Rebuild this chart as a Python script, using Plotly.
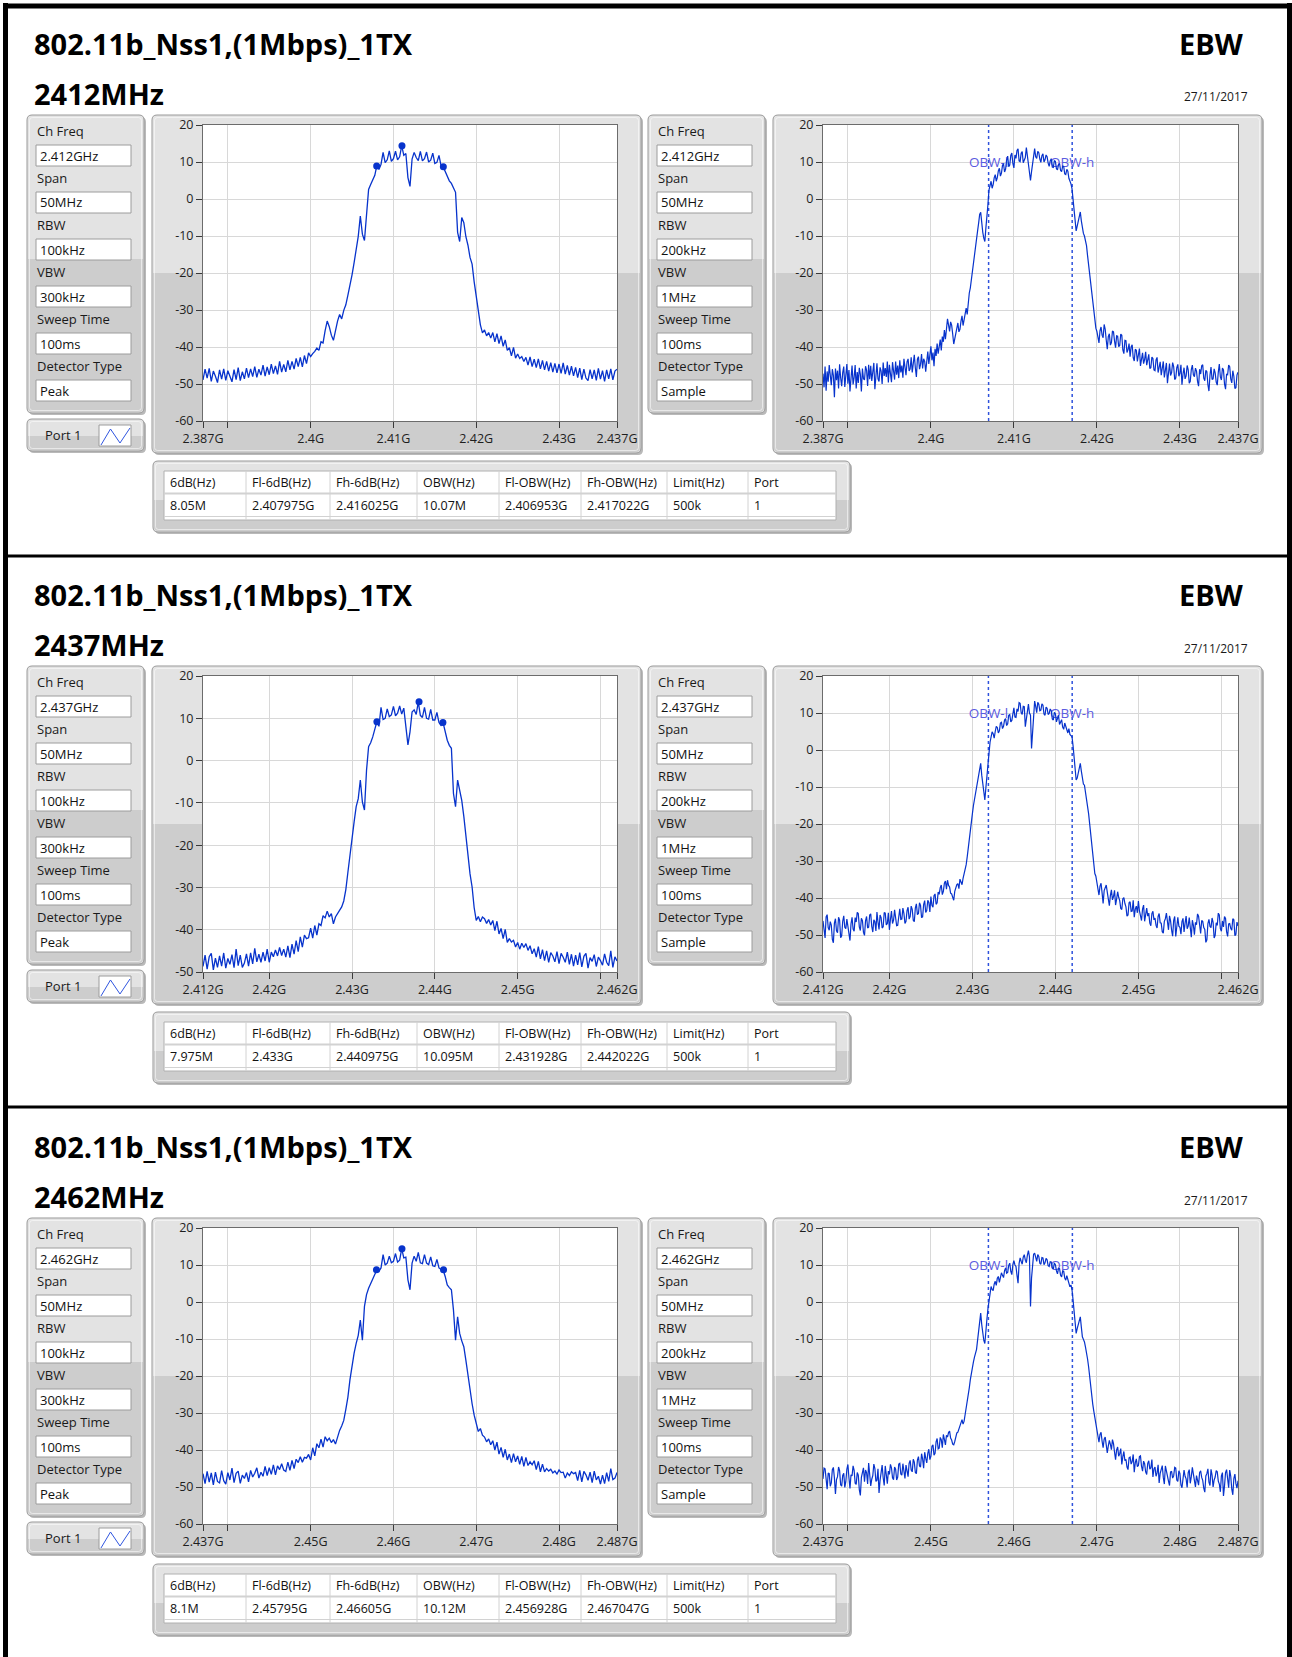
import plotly.graph_objects as go

# ---------------- page geometry (pixels, origin top-left) ----------------
W, H = 1292, 1657
SECTION_DY = [0, 551, 1103]
FONT = "Open Sans"
TRACE_BLUE = "#0733cc"

# ---------------- report text ----------------
report_title = "802.11b_Nss1,(1Mbps)_1TX"
test_name = "EBW"
report_date = "27/11/2017"
channel_labels = ["2412MHz", "2437MHz", "2462MHz"]
center_ghz = [2.412, 2.437, 2.462]

# ---------------- analyser settings ----------------
setting_names = ["Ch Freq", "Span", "RBW", "VBW", "Sweep Time", "Detector Type"]
ch_freq_text = ["2.412GHz", "2.437GHz", "2.462GHz"]
peak_settings = ["50MHz", "100kHz", "300kHz", "100ms", "Peak"]
sample_settings = ["50MHz", "200kHz", "1MHz", "100ms", "Sample"]
port_label = "Port 1"

# ---------------- sweep: 50 MHz span centred on the channel ----------------
span_mhz = 50.0

# ---------------- measured traces, dBm ----------------
# peak detector: 201 points (0.25 MHz step)
peak_2412 = [
    -48.9, -46.0, -48.4, -45.8, -49.3, -46.5, -47.9, -49.6, -46.2, -48.7, -45.9, -49.0, -46.4, -48.2, -49.4, -46.1, -48.8, -45.6, -49.1, -46.7,
    -48.6, -45.7, -48.3, -45.9, -48.0, -45.3, -48.2, -46.0, -47.6, -44.9, -47.9, -45.4, -47.5, -44.6, -47.2, -45.1, -47.4, -43.9, -46.8, -44.7,
    -46.7, -43.6, -46.2, -43.9, -46.0, -43.1, -45.3, -42.8, -45.4, -42.3, -44.5, -41.6, -42.6, -41.8, -41.2, -40.3, -40.9, -38.6, -38.9, -35.6,
    -33.0, -34.5, -36.8, -38.2, -35.5, -33.0, -31.2, -32.4, -30.1, -28.6, -26.0, -23.5, -20.5, -17.2, -13.4, -10.1, -4.6, -9.5, -11.2, -3.5,
    2.6, 3.9, 5.2, 6.4, 9.1, 8.0, 9.4, 12.6, 9.8, 10.6, 13.0, 10.2, 10.9, 12.9, 10.6, 11.4, 14.4, 11.8, 12.3, 5.8,
    3.4, 10.8, 12.6, 11.2, 10.4, 12.9, 10.3, 10.9, 12.7, 10.0, 10.5, 12.4, 9.6, 9.9, 11.8, 9.0, 8.7, 7.4, 6.3, 4.9,
    4.2, 3.1, 1.8, -9.0, -11.5, -5.0, -6.4, -10.2, -12.5, -15.8, -17.6, -22.4, -26.5, -30.8, -34.0, -36.2, -35.4, -37.0, -36.1, -37.6,
    -36.1, -38.6, -36.4, -39.1, -37.0, -39.8, -38.1, -40.9, -40.2, -42.4, -40.1, -43.0, -41.9, -43.1, -42.6, -43.9, -42.8, -44.9, -42.7, -45.3,
    -43.3, -45.6, -43.2, -45.9, -43.6, -46.2, -43.9, -46.5, -44.2, -46.8, -44.4, -47.0, -44.6, -47.1, -44.3, -47.3, -45.0, -47.6, -45.2, -47.8,
    -45.5, -48.3, -45.7, -48.8, -46.0, -48.4, -49.1, -46.1, -48.6, -46.2, -49.0, -45.8, -48.7, -46.4, -49.3, -46.2, -48.6, -45.9, -48.9, -46.5,
    -46.0,
]
peak_2437 = [
    -48.7, -46.0, -49.3, -46.4, -45.6, -49.5, -46.7, -48.9, -46.2, -48.6, -45.5, -49.1, -46.8, -48.2, -45.9, -49.0, -44.6, -48.5, -46.0, -48.9,
    -47.9, -45.7, -48.6, -45.5, -48.1, -44.4, -47.6, -45.8, -47.7, -45.3, -47.4, -44.6, -47.7, -45.3, -46.4, -44.8, -46.2, -44.2, -46.1, -44.6,
    -46.5, -43.8, -46.6, -43.4, -45.8, -42.6, -45.2, -41.7, -44.1, -41.3, -42.1, -41.9, -39.6, -42.0, -39.0, -41.3, -38.6, -39.0, -36.7, -37.2,
    -35.6, -37.0, -36.2, -38.6, -37.0, -36.1, -35.5, -34.6, -33.2, -30.5, -26.4, -22.0, -18.8, -14.5, -10.9, -9.0, -4.6, -9.8, -11.7, -2.3,
    3.3, 4.2, 5.6, 7.3, 9.2, 8.1, 12.6, 9.7, 10.0, 12.2, 10.4, 10.8, 12.8, 10.6, 11.2, 12.9, 11.0, 12.4, 8.6, 3.7,
    6.8, 11.5, 12.0, 10.9, 13.9, 10.7, 10.2, 12.6, 10.0, 9.8, 12.1, 9.6, 9.6, 11.4, 9.0, 8.3, 8.9, 6.7, 4.8, 3.6,
    2.9, -7.8, -10.9, -4.6, -6.8, -9.4, -13.2, -18.0, -22.5, -26.8, -29.9, -34.8, -37.8, -36.9, -38.1, -37.0, -37.4, -38.5, -37.6, -38.9,
    -37.8, -40.2, -38.0, -41.0, -39.7, -42.1, -39.9, -43.0, -42.1, -42.9, -42.5, -44.1, -43.0, -44.6, -43.2, -44.2, -43.3, -44.9, -43.8, -45.7,
    -44.5, -46.5, -44.0, -46.9, -44.7, -47.3, -45.0, -47.7, -45.4, -46.2, -47.6, -45.2, -48.0, -45.6, -46.5, -47.7, -45.3, -48.2, -45.8, -48.6,
    -46.0, -48.3, -45.4, -48.8, -46.3, -45.6, -49.1, -46.6, -47.5, -45.9, -48.7, -46.5, -47.3, -48.4, -45.7, -47.7, -48.5, -45.0, -48.9, -46.4,
    -47.4,
]
peak_2462 = [
    -46.4, -49.1, -45.8, -48.7, -46.2, -49.4, -46.0, -48.5, -48.9, -45.6, -48.3, -49.2, -46.1, -48.1, -44.9, -48.8, -46.3, -45.7, -49.0, -46.8,
    -47.7, -46.1, -48.6, -45.5, -47.3, -46.3, -44.8, -47.6, -46.0, -47.1, -44.4, -46.9, -44.8, -46.6, -44.0, -46.7, -44.3, -45.3, -43.7, -45.4,
    -45.8, -43.3, -45.5, -42.8, -45.0, -42.5, -43.4, -41.8, -43.3, -42.0, -42.2, -41.2, -42.7, -39.4, -41.6, -38.3, -39.4, -37.1, -39.2, -36.4,
    -37.5, -36.8, -38.0, -37.2, -38.4, -36.5, -34.7, -33.5, -32.0, -29.0, -25.7, -21.0, -16.6, -13.8, -11.2, -9.0, -4.9, -10.3, -1.2, 2.0,
    3.7, 4.9, 6.2, 7.4, 8.7, 8.3, 9.2, 12.8, 10.0, 10.5, 12.4, 10.6, 11.0, 13.1, 10.8, 11.3, 14.4, 11.9, 12.1, 6.0,
    3.3, 10.5, 12.4, 11.0, 13.4, 10.6, 10.4, 12.8, 10.5, 10.1, 12.2, 9.8, 9.6, 11.5, 9.2, 8.8, 8.7, 6.9, 4.6, 3.9,
    3.3, -2.2, -10.3, -4.0, -8.5, -10.5, -12.1, -15.8, -20.2, -24.0, -27.5, -30.6, -32.9, -35.0, -34.2, -36.0, -36.5, -37.8, -37.0, -38.6,
    -37.5, -40.0, -37.9, -41.1, -39.3, -42.0, -39.8, -42.7, -41.1, -43.4, -41.0, -43.2, -41.6, -43.9, -41.7, -44.4, -42.0, -44.2, -43.2, -44.0,
    -42.9, -45.3, -43.1, -45.9, -43.8, -45.9, -45.0, -45.7, -45.2, -46.2, -45.7, -46.5, -45.4, -46.1, -46.0, -47.6, -46.2, -46.9, -45.9, -46.4,
    -46.1, -48.3, -45.5, -48.6, -45.8, -46.7, -48.2, -46.0, -48.8, -45.7, -48.1, -47.1, -49.2, -46.8, -49.1, -46.1, -48.5, -45.0, -48.0, -47.6,
    -46.1,
]
# sample detector: 401 points (0.125 MHz step)
sample_2412 = [
    -47.2, -50.9, -45.3, -51.8, -46.6, -49.4, -44.9, -48.7, -50.3, -46.0, -47.7, -53.6, -45.8, -49.0, -46.4, -51.2, -44.7, -48.3, -50.6, -46.9,
    -45.3, -50.8, -47.5, -44.6, -49.9, -46.2, -52.0, -47.4, -45.0, -50.1, -48.2, -44.9, -51.2, -46.8, -49.7, -45.6, -47.4, -52.0, -45.8, -48.6,
    -48.9, -45.2, -46.3, -50.5, -44.8, -48.7, -45.1, -49.2, -47.0, -44.3, -51.4, -46.1, -44.4, -48.6, -49.3, -45.5, -46.5, -50.0, -44.2, -47.8,
    -45.7, -48.1, -43.9, -49.6, -44.8, -47.2, -49.5, -44.1, -46.2, -48.8, -43.9, -47.5, -45.0, -48.4, -43.6, -46.9, -45.0, -48.3, -43.2, -46.4,
    -47.6, -44.0, -43.2, -46.5, -45.9, -42.8, -46.9, -44.5, -42.1, -45.6, -48.1, -43.3, -42.6, -46.0, -44.7, -41.9, -45.8, -43.2, -43.9, -46.7,
    -43.8, -41.2, -44.6, -42.0, -39.8, -43.6, -41.5, -45.2, -40.5, -42.4, -39.1, -41.8, -40.2, -38.0, -40.9, -37.2, -38.6, -35.4, -37.9, -34.6,
    -32.4, -34.0, -35.8, -33.2, -34.1, -36.5, -39.2, -37.8, -36.0, -34.4, -33.5, -35.9, -35.2, -33.0, -31.6, -34.2, -32.8, -30.6, -29.5, -31.2,
    -27.0, -25.4, -24.0, -21.6, -19.8, -17.9, -15.6, -12.8, -10.4, -8.6, -6.5, -4.2, -3.6, -7.1, -9.0, -10.6, -11.5, -7.8, -5.2, -1.4,
    2.5, 3.6, 4.8, 2.9, 3.9, 5.7, 6.6, 4.8, 5.8, 7.6, 8.3, 6.2, 7.0, 9.1, 9.5, 7.3, 8.1, 10.6, 11.6, 8.7,
    9.2, 11.8, 12.4, 9.6, 8.4, 11.9, 11.0, 13.1, 13.6, 10.3, 10.1, 12.4, 12.8, 9.8, 10.4, 11.2, 13.9, 11.5, 8.6, 6.9,
    5.0, 7.4, 9.8, 12.6, 13.6, 11.4, 11.0, 12.9, 12.5, 10.8, 9.9, 11.7, 12.2, 10.0, 10.6, 11.9, 11.4, 9.7, 8.8, 10.3,
    10.9, 8.6, 8.5, 10.4, 10.1, 8.2, 7.9, 9.3, 9.6, 7.7, 7.4, 8.9, 8.8, 6.8, 6.6, 8.0, 7.5, 5.6, 4.9, 4.1,
    2.8, 0.1, -3.0, -6.2, -8.6, -7.3, -6.0, -4.1, -3.5, -5.9, -8.2, -9.3, -10.0, -11.5, -12.6, -15.3, -17.8, -20.1, -22.5, -25.9,
    -28.7, -31.0, -33.2, -34.9, -35.8, -37.4, -38.9, -35.6, -34.6, -36.8, -37.5, -33.9, -35.2, -38.1, -40.6, -37.2, -36.4, -39.5, -38.8, -35.7,
    -35.9, -38.4, -40.2, -37.0, -37.1, -39.9, -39.6, -36.5, -36.8, -40.8, -41.8, -38.2, -38.3, -41.5, -40.7, -39.1, -42.6, -40.0, -39.4, -42.9,
    -43.8, -40.6, -40.9, -43.9, -42.2, -40.4, -45.1, -42.8, -41.6, -44.5, -43.4, -41.3, -44.9, -43.5, -42.0, -45.8, -45.6, -42.7, -43.1, -46.2,
    -46.4, -43.5, -42.8, -46.9, -45.2, -44.0, -47.6, -45.1, -43.9, -48.2, -46.0, -44.3, -49.8, -46.5, -44.5, -47.7, -46.9, -44.2, -45.3, -48.8,
    -48.4, -45.6, -44.7, -47.9, -47.1, -44.8, -50.2, -47.3, -45.6, -48.6, -47.8, -45.0, -46.2, -49.8, -49.3, -46.1, -44.9, -47.5, -48.0, -45.7,
    -46.5, -49.3, -50.6, -46.0, -47.3, -45.1, -44.8, -48.4, -49.1, -46.3, -46.7, -50.2, -51.9, -47.6, -45.4, -48.8, -48.6, -45.9, -47.0, -49.5,
    -50.3, -46.8, -44.6, -48.1, -48.9, -45.7, -46.2, -50.0, -51.4, -47.3, -47.5, -44.9, -45.3, -48.6, -49.7, -46.4, -47.9, -51.2, -51.0, -47.6,
    -46.8,
]
sample_2437 = [
    -46.2, -49.6, -50.8, -45.1, -44.5, -48.0, -48.7, -46.4, -47.3, -51.2, -52.1, -46.8, -45.6, -48.9, -49.4, -45.2, -46.0, -50.7, -50.2, -46.3,
    -44.8, -47.9, -48.3, -45.7, -47.6, -50.4, -51.5, -47.0, -45.2, -48.4, -49.0, -45.3, -46.5, -43.9, -44.2, -47.8, -48.8, -45.5, -46.1, -49.3,
    -50.1, -46.2, -45.0, -48.1, -47.9, -44.6, -44.3, -47.7, -49.2, -45.9, -46.4, -48.9, -43.8, -46.5, -48.5, -44.6, -45.3, -48.1, -47.8, -43.9,
    -44.1, -47.3, -46.9, -44.0, -48.6, -45.8, -43.5, -46.9, -46.0, -43.2, -44.8, -47.5, -47.4, -44.1, -42.9, -45.8, -45.7, -42.7, -44.2, -46.9,
    -46.3, -43.4, -42.5, -45.7, -45.0, -42.2, -43.1, -46.0, -46.4, -42.7, -41.6, -44.5, -44.2, -41.3, -42.0, -45.3, -45.1, -41.8, -40.7, -43.9,
    -43.4, -40.6, -41.2, -43.8, -39.6, -42.0, -42.5, -39.4, -38.9, -41.7, -41.3, -38.4, -39.0, -37.2, -36.5, -39.1, -38.2, -36.0, -35.4, -37.6,
    -35.2, -36.6, -37.0, -38.7, -38.9, -39.8, -40.6, -38.2, -37.0, -36.4, -36.1, -37.5, -34.9, -35.8, -36.4, -34.7, -33.4, -32.6, -31.0, -28.9,
    -26.2, -24.1, -22.5, -19.6, -17.2, -15.0, -13.4, -11.8, -10.0, -8.5, -7.2, -4.9, -3.6, -6.8, -9.1, -11.6, -13.5, -10.2, -6.2, -3.0,
    -0.9, 2.1, 3.6, 4.9, 4.4, 3.2, 5.0, 6.4, 6.1, 4.6, 5.2, 7.3, 7.5, 5.8, 6.4, 8.1, 8.5, 6.6, 7.1, 9.4,
    9.6, 7.6, 8.0, 10.3, 11.4, 8.9, 8.8, 11.1, 10.4, 12.8, 12.6, 10.1, 9.6, 11.8, 11.7, 6.3, 8.2, 11.2, 12.4, 10.0,
    9.4, 0.4, 5.6, 11.7, 13.2, 11.8, 10.1, 12.9, 12.4, 10.6, 10.8, 12.5, 12.1, 9.7, 9.4, 11.6, 11.3, 9.6, 9.9, 11.1,
    10.6, 8.4, 8.1, 10.2, 9.8, 7.6, 8.5, 9.4, 6.9, 7.8, 8.2, 6.2, 5.6, 7.3, 6.4, 5.1, 4.6, 5.8, 4.2, 3.9,
    3.6, 1.2, -1.8, -5.4, -8.1, -7.6, -6.5, -4.8, -3.6, -5.7, -8.4, -9.2, -9.5, -11.3, -12.8, -15.1, -17.2, -19.9, -22.8, -25.6,
    -28.0, -31.2, -33.4, -34.1, -35.6, -37.9, -39.2, -36.8, -36.0, -38.6, -41.5, -38.0, -37.0, -36.5, -38.4, -40.9, -42.1, -39.3, -37.8, -40.5,
    -39.6, -37.9, -41.9, -40.3, -38.3, -39.8, -40.7, -42.8, -43.1, -40.2, -39.9, -41.5, -42.4, -44.9, -44.6, -41.3, -41.0, -43.6, -43.5, -40.6,
    -45.2, -43.0, -42.2, -44.0, -40.8, -43.5, -44.8, -46.1, -43.0, -41.9, -46.3, -44.5, -42.7, -44.9, -44.1, -46.8, -47.5, -44.2, -43.6, -45.9,
    -45.4, -47.4, -48.1, -45.0, -44.2, -46.7, -46.8, -49.1, -49.5, -46.3, -45.6, -44.1, -47.3, -48.6, -44.8, -46.2, -48.7, -50.3, -46.1, -45.0,
    -50.4, -47.1, -45.2, -47.6, -47.9, -49.8, -46.4, -45.5, -49.2, -46.8, -44.9, -48.3, -47.6, -45.3, -48.8, -50.6, -46.0, -47.4, -49.9, -46.6,
    -47.2, -44.3, -44.9, -48.5, -49.6, -46.1, -46.3, -48.0, -48.5, -52.0, -51.3, -46.9, -45.8, -47.7, -48.0, -45.4, -46.6, -50.8, -50.1, -46.7,
    -47.4, -44.1, -44.6, -48.3, -49.0, -46.2, -47.8, -45.0, -45.5, -49.1, -50.4, -47.0, -46.9, -48.2, -48.7, -45.6, -45.9, -50.2, -49.8, -46.5,
    -47.5,
]
sample_2462 = [
    -47.8, -44.9, -45.1, -49.3, -50.6, -46.2, -46.4, -49.8, -48.9, -45.3, -44.7, -47.6, -51.9, -48.0, -47.2, -44.6, -45.6, -49.4, -49.8, -46.9,
    -46.3, -50.1, -48.5, -45.2, -43.9, -47.5, -50.4, -46.7, -47.0, -44.3, -45.5, -49.0, -49.3, -46.1, -46.8, -50.7, -52.3, -47.4, -45.9, -44.8,
    -48.6, -45.4, -46.1, -49.2, -43.5, -46.7, -49.7, -47.9, -46.9, -43.8, -45.0, -48.5, -48.2, -45.1, -51.6, -48.2, -45.7, -44.1, -47.5, -49.6,
    -44.3, -46.9, -49.1, -45.7, -46.6, -43.9, -44.8, -47.5, -48.0, -44.6, -45.2, -48.1, -47.3, -43.8, -43.6, -46.5, -46.8, -43.7, -45.3, -47.7,
    -44.1, -46.5, -47.2, -43.6, -42.8, -45.4, -45.9, -42.5, -43.3, -46.1, -46.4, -42.7, -41.8, -44.3, -44.6, -41.0, -42.4, -44.9, -40.6, -42.2,
    -43.5, -40.9, -39.8, -42.6, -41.7, -39.0, -38.6, -41.4, -40.9, -37.8, -36.9, -39.7, -39.5, -36.6, -37.2, -39.4, -35.8, -37.1, -38.6, -36.0,
    -36.5, -35.3, -34.9, -36.8, -37.3, -38.4, -38.6, -37.7, -36.0, -35.4, -35.2, -34.4, -33.6, -32.7, -31.8, -33.0, -32.2, -30.4, -28.8, -27.4,
    -25.7, -23.2, -21.0, -19.1, -17.5, -16.2, -14.9, -13.6, -12.8, -10.3, -7.8, -5.2, -3.0, -6.1, -8.6, -10.4, -11.2, -8.7, -4.6, -1.8,
    0.6, 2.9, 4.2, 3.4, 3.1, 4.8, 5.6, 4.5, 6.4, 6.9, 5.3, 6.6, 7.9, 7.2, 6.6, 8.5, 9.2, 7.8, 8.0, 9.9,
    10.5, 8.3, 7.4, 10.1, 11.2, 10.0, 9.6, 7.2, 5.1, 10.4, 11.9, 11.0, 10.2, 12.1, 12.8, 11.3, 10.6, 12.7, 13.9, 12.2,
    -1.2, 6.5, 10.4, 12.9, 13.2, 11.6, 11.0, 12.8, 12.3, 10.5, 10.2, 12.0, 11.9, 10.1, 10.6, 11.8, 11.4, 9.8, 9.6, 10.9,
    10.8, 9.2, 8.9, 10.5, 10.1, 8.4, 7.6, 9.1, 9.0, 7.2, 6.8, 8.4, 8.3, 6.5, 5.9, 7.1, 6.0, 4.9, 4.1, 4.6,
    3.3, 0.6, -2.2, -5.8, -8.5, -7.2, -6.1, -4.6, -4.0, -6.8, -9.4, -10.1, -10.8, -12.2, -13.6, -15.4, -17.5, -20.5, -23.0, -25.6,
    -27.6, -29.5, -31.1, -33.2, -34.7, -36.4, -37.9, -35.8, -35.2, -37.6, -39.4, -37.1, -36.5, -38.6, -40.8, -38.9, -37.4, -38.5, -39.9, -37.2,
    -38.3, -40.6, -42.6, -40.0, -39.2, -41.7, -41.0, -39.6, -43.9, -41.8, -40.4, -42.9, -42.5, -44.6, -45.3, -42.1, -41.9, -43.8, -43.1, -41.2,
    -46.0, -43.4, -42.4, -44.5, -44.2, -41.8, -41.6, -44.4, -45.7, -43.0, -43.7, -45.9, -46.6, -43.6, -42.9, -45.2, -44.8, -42.6, -47.3, -45.1,
    -44.6, -47.1, -46.2, -44.0, -48.9, -46.3, -45.1, -44.2, -47.4, -49.2, -44.3, -46.0, -46.9, -48.4, -49.6, -45.9, -45.8, -47.6, -47.0, -44.7,
    -44.9, -48.1, -48.5, -45.6, -46.3, -49.4, -50.2, -46.7, -45.4, -47.1, -47.8, -50.1, -46.1, -45.3, -49.0, -47.2, -44.7, -46.5, -48.3, -50.0,
    -46.9, -48.8, -49.5, -46.1, -45.6, -47.4, -48.2, -50.3, -51.4, -47.0, -46.4, -45.1, -48.7, -49.6, -45.2, -46.8, -50.0, -48.1, -47.3, -45.6,
    -45.9, -48.4, -49.2, -51.3, -47.0, -46.1, -52.4, -49.7, -46.1, -45.3, -48.8, -50.2, -45.4, -47.1, -50.6, -52.1, -47.7, -46.5, -49.1, -50.3,
    -48.3,
]
peak_traces = [peak_2412, peak_2437, peak_2462]
sample_traces = [sample_2412, sample_2437, sample_2462]

# ---------------- axes ----------------
xtick_vals = [
    [2.387, 2.39, 2.40, 2.41, 2.42, 2.43, 2.437],
    [2.412, 2.42, 2.43, 2.44, 2.45, 2.46, 2.462],
    [2.437, 2.44, 2.45, 2.46, 2.47, 2.48, 2.487],
]
xtick_text = [
    ["2.387G", "", "2.4G", "2.41G", "2.42G", "2.43G", "2.437G"],
    ["2.412G", "2.42G", "2.43G", "2.44G", "2.45G", "", "2.462G"],
    ["2.437G", "", "2.45G", "2.46G", "2.47G", "2.48G", "2.487G"],
]
peak_yrange = [(-60, 20), (-50, 20), (-60, 20)]
sample_yrange = [(-60, 20), (-60, 20), (-60, 20)]

# ---------------- measurement results ----------------
bw_6db_mhz = [8.05, 7.975, 8.1]
fl_6db_ghz = [2.407975, 2.433, 2.45795]
fh_6db_ghz = [2.416025, 2.440975, 2.46605]
obw_mhz = [10.07, 10.095, 10.12]
fl_obw_ghz = [2.406953, 2.431928, 2.456928]
fh_obw_ghz = [2.417022, 2.442022, 2.467047]
limit_text = "500k"
port_number = "1"
table_header = ["6dB(Hz)", "Fl-6dB(Hz)", "Fh-6dB(Hz)", "OBW(Hz)", "Fl-OBW(Hz)", "Fh-OBW(Hz)", "Limit(Hz)", "Port"]

# marker levels on the peak-detector traces
peak_marker_ghz = [2.41103, 2.43809, 2.46103]
peak_marker_db = [14.4, 13.9, 14.4]
fl_6db_level = [8.9, 9.2, 8.7]
fh_6db_level = [8.7, 9.0, 8.7]

# ---------------- drawing helpers ----------------
PANEL_LIGHT = "#e3e3e3"
PANEL_DARK = "#cdcdcd"
PANEL_EDGE = "#9a9a9a"
SHADOW = "#b9b9b9"

shapes = []
annotations = []


def X(px):
    return px / W


def Y(py):
    return 1 - py / H


def rpath(x0, y0, x1, y1, r, top=True, bottom=True):
    rt = r if top else 0
    rb = r if bottom else 0
    f = lambda v: f"{v:.6f}"
    d = f"M{f(X(x0 + rt))},{f(Y(y0))} L{f(X(x1 - rt))},{f(Y(y0))} "
    if rt:
        d += f"Q{f(X(x1))},{f(Y(y0))} {f(X(x1))},{f(Y(y0 + rt))} "
    d += f"L{f(X(x1))},{f(Y(y1 - rb))} "
    if rb:
        d += f"Q{f(X(x1))},{f(Y(y1))} {f(X(x1 - rb))},{f(Y(y1))} "
    d += f"L{f(X(x0 + rb))},{f(Y(y1))} "
    if rb:
        d += f"Q{f(X(x0))},{f(Y(y1))} {f(X(x0))},{f(Y(y1 - rb))} "
    d += f"L{f(X(x0))},{f(Y(y0 + rt))} "
    if rt:
        d += f"Q{f(X(x0))},{f(Y(y0))} {f(X(x0 + rt))},{f(Y(y0))} "
    return d + "Z"


def add_path(d, fill, line=None, lw=1):
    shapes.append(dict(type="path", path=d, xref="paper", yref="paper", fillcolor=fill,
                       line=dict(color=line if line else "rgba(0,0,0,0)", width=lw if line else 0),
                       layer="below"))


def add_rect(x0, y0, x1, y1, fill, line=None, lw=1):
    shapes.append(dict(type="rect", xref="paper", yref="paper",
                       x0=X(x0), x1=X(x1), y0=Y(y1), y1=Y(y0), fillcolor=fill,
                       line=dict(color=line if line else "rgba(0,0,0,0)", width=lw if line else 0),
                       layer="below"))


def add_line(x0, y0, x1, y1, color, width=1):
    shapes.append(dict(type="line", xref="paper", yref="paper",
                       x0=X(x0), y0=Y(y0), x1=X(x1), y1=Y(y1),
                       line=dict(color=color, width=width), layer="below"))


def panel(x0, y0, x1, y1, split, r=5):
    add_path(rpath(x0 + 2, y0 + 2, x1 + 2, y1 + 2, r), SHADOW)
    add_path(rpath(x0, y0, x1, y1, r), PANEL_LIGHT, PANEL_EDGE, 1)
    add_path(rpath(x0 + 1, split, x1 - 1, y1 - 1, r - 1, top=False), PANEL_DARK)
    add_path(rpath(x0 + 2.5, y0 + 2.5, x1 - 2.5, y1 - 2.5, r - 2), "rgba(0,0,0,0)", "rgba(255,255,255,0.55)", 1)


def text(x, y, s, size, color="#1a1a1a", anchor="left"):
    annotations.append(dict(x=X(x), y=Y(y), xref="paper", yref="paper", text=s, showarrow=False,
                            xanchor=anchor, yanchor="middle", borderpad=0,
                            font=dict(family=FONT, size=size, color=color)))


# ---------------- outer frame ----------------
add_line(3, 6, 1292, 6, "black", 5)
add_line(5.5, 3, 5.5, H, "black", 5)
add_line(1289.5, 3, 1289.5, H, "black", 5)
for sep in (556, 1107):
    add_line(3, sep, 1292, sep, "black", 3)

COL_X = [164, 246, 330, 417, 499, 581, 667, 748, 836]
PLOT_X = [(203, 617), (823, 1238)]
PANEL_X = [(152, 641), (773, 1262)]
SET_X = [(27, 144), (648, 765)]

fig = go.Figure()
layout_axes = {}
axis_style = dict(showgrid=True, gridcolor="#d8d8d8", gridwidth=1, zeroline=False,
                  showline=True, linecolor="#6c6c6c", linewidth=1, mirror=True,
                  ticks="outside", ticklen=6, tickwidth=1, tickcolor="#3a3a3a",
                  tickfont=dict(family=FONT, size=12.5, color="#1e1e1e"),
                  automargin=False, fixedrange=True)

k = 0
for s in range(3):
    dy = SECTION_DY[s]
    c = center_ghz[s]

    # headings
    text(33, 43 + dy, f"<b>{report_title}</b>", 29, "#000000")
    text(33, 93 + dy, f"<b>{channel_labels[s]}</b>", 29, "#000000")
    text(1245, 43 + dy, f"<b>{test_name}</b>", 29, "#000000", "right")
    text(1249, 97 + dy, report_date, 12, "#1a1a1a", "right")

    # settings clusters
    for side, vals in enumerate([peak_settings, sample_settings]):
        sx0, sx1 = SET_X[side]
        panel(sx0, 115 + dy, sx1, 413 + dy, 259 + dy)
        values = [ch_freq_text[s]] + vals
        for i, name in enumerate(setting_names):
            text(sx0 + 9, 131 + 47 * i + dy, name, 13)
            by0 = 145 + 47 * i + dy
            add_rect(sx0 + 9, by0, sx1 - 13, by0 + 21, "white", "#9c9c9c", 1)
            text(sx0 + 12, by0 + 10.5, values[i], 13, "#111111")

    # port selector
    panel(27, 419 + dy, 144, 451 + dy, 436 + dy)
    text(63, 435 + dy, port_label, 13, "#1a1a1a", "center")
    add_rect(99, 425 + dy, 131, 446 + dy, "white", "#9c9c9c", 1)
    zig = [(101, 445), (110.5, 429), (120, 443), (130, 428)]
    zd = "M" + " L".join(f"{X(a):.6f},{Y(b + dy):.6f}" for a, b in zig)
    shapes.append(dict(type="path", path=zd, xref="paper", yref="paper",
                       line=dict(color="#2f55e0", width=1), layer="above"))

    # graph panels + white plot areas
    for side in range(2):
        gx0, gx1 = PANEL_X[side]
        panel(gx0, 115 + dy, gx1, 453 + dy, 273 + dy)
        px0, px1 = PLOT_X[side]
        add_rect(px0, 125 + dy, px1, 421 + dy, "white")

    # results table
    panel(153, 461 + dy, 850, 532 + dy, 500 + dy)
    add_rect(164, 471 + dy, 836, 520 + dy, "white", "#b0b0b0", 1)
    for xc in COL_X[1:-1]:
        add_line(xc, 471 + dy, xc, 520 + dy, "#d2d2d2", 1)
    add_line(164, 493.5 + dy, 836, 493.5 + dy, "#d2d2d2", 2)
    add_line(164, 516.5 + dy, 836, 516.5 + dy, "#d2d2d2", 1)
    row = [f"{bw_6db_mhz[s]}M", f"{fl_6db_ghz[s]}G", f"{fh_6db_ghz[s]}G", f"{obw_mhz[s]}M",
           f"{fl_obw_ghz[s]}G", f"{fh_obw_ghz[s]}G", limit_text, port_number]
    for j in range(8):
        text(COL_X[j] + 5, 482 + dy, table_header[j], 12.5, "#111111")
        text(COL_X[j] + 5, 505 + dy, row[j], 12.5, "#111111")

    # the two spectrum graphs
    for side in range(2):
        k += 1
        sfx = "" if k == 1 else str(k)
        px0, px1 = PLOT_X[side]
        ymin, ymax = peak_yrange[s] if side == 0 else sample_yrange[s]
        yt = list(range(ymin, ymax + 1, 10))
        tv = xtick_vals[s]
        layout_axes[f"xaxis{sfx}"] = dict(domain=[X(px0), X(px1)], range=[tv[0] - 1e-9, tv[-1] + 1e-9],
                                          anchor=f"y{sfx}", tickmode="array", tickvals=tv,
                                          ticktext=xtick_text[s], **axis_style)
        layout_axes[f"yaxis{sfx}"] = dict(domain=[Y(421 + dy), Y(125 + dy)], range=[ymin, ymax],
                                          anchor=f"x{sfx}", tickmode="array", tickvals=yt,
                                          ticktext=[str(v) for v in yt], **axis_style)
        xr, yr = f"x{sfx}", f"y{sfx}"
        vals = peak_traces[s] if side == 0 else sample_traces[s]
        step = span_mhz / (len(vals) - 1)
        freqs = [c + (-span_mhz / 2 + i * step) / 1000.0 for i in range(len(vals))]

        if side == 1:
            # occupied-bandwidth cursors and their labels sit underneath the trace
            fig.add_trace(go.Scatter(
                x=[fl_obw_ghz[s], fl_obw_ghz[s], None, fh_obw_ghz[s], fh_obw_ghz[s]],
                y=[ymin, ymax, None, ymin, ymax], mode="lines", xaxis=xr, yaxis=yr,
                line=dict(color="#2f52dc", width=1.5, dash="dot"), hoverinfo="skip", showlegend=False))
            fig.add_trace(go.Scatter(
                x=[fl_obw_ghz[s], fh_obw_ghz[s]], y=[9.6, 9.6], mode="text", text=["OBW-l", "OBW-h"],
                textposition="middle center", xaxis=xr, yaxis=yr, cliponaxis=False,
                textfont=dict(family=FONT, size=13.5, color="#5b5be0"), hoverinfo="skip", showlegend=False))

        fig.add_trace(go.Scatter(x=freqs, y=vals, mode="lines", xaxis=xr, yaxis=yr,
                                 line=dict(color=TRACE_BLUE, width=1.3 if side == 0 else 1.2),
                                 hoverinfo="skip", showlegend=False))

        if side == 0:
            fig.add_trace(go.Scatter(
                x=[fl_6db_ghz[s], peak_marker_ghz[s], fh_6db_ghz[s]],
                y=[fl_6db_level[s], peak_marker_db[s], fh_6db_level[s]],
                mode="markers", xaxis=xr, yaxis=yr, cliponaxis=False,
                marker=dict(color=TRACE_BLUE, size=7), hoverinfo="skip", showlegend=False))

fig.update_layout(width=W, height=H,
                  margin=dict(l=0, r=0, t=0, b=0, pad=0, autoexpand=False),
                  paper_bgcolor="white", plot_bgcolor="white",
                  showlegend=False, hovermode=False,
                  shapes=shapes, annotations=annotations, **layout_axes)

# page without body margin or scrollbars so the figure fills the window exactly
fig.write_html("out.html", config={"displayModeBar": False},
               post_script="document.body.style.margin='0px';"
                           "document.documentElement.style.overflow='hidden';"
                           "document.body.style.overflow='hidden';")
